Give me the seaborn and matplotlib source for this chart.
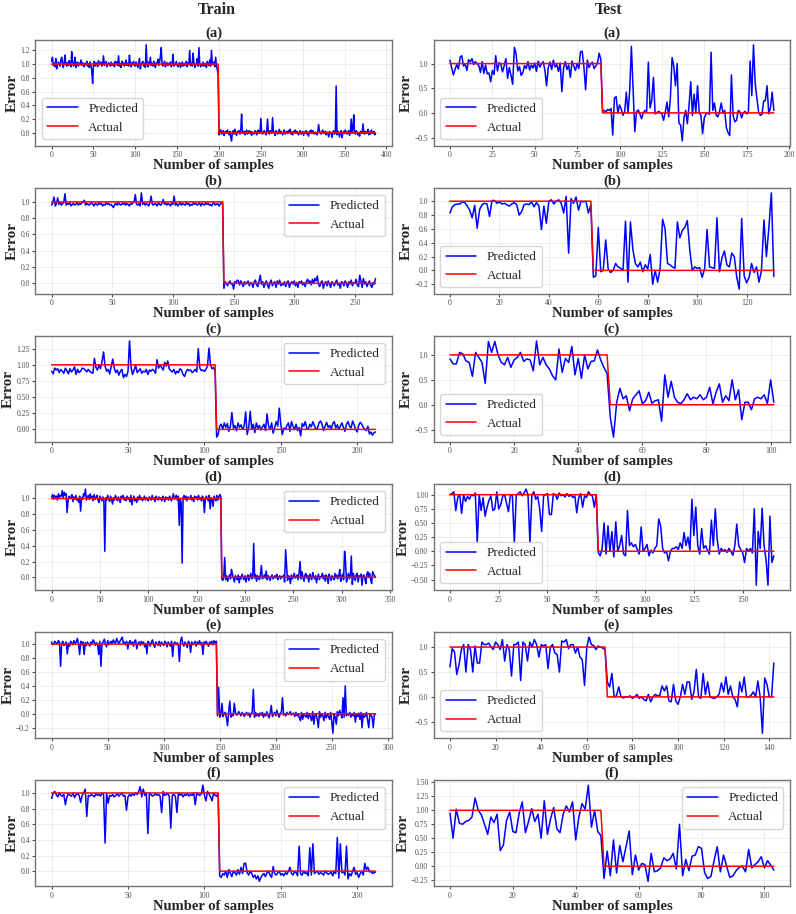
import numpy as np
import pandas as pd
import matplotlib
matplotlib.use("Agg")
import matplotlib.pyplot as plt
from matplotlib.ticker import MultipleLocator
import seaborn as sns

# ---------------- data (predicted values in hundredths) ----------------
# Train (a)
TRAIN_A_HI = [104,110,98,101,96,108,93,99,103,100,97,106,110,101,95,103,113,99,97,102,
              98,105,100,96,118,104,97,99,110,95,100,103,97,101,99,106,98,102,100,96,
              101,99,104,97,100,95,103,98,90,72,99,104,97,102,100,96,105,99,101,103,
              97,100,112,98,101,104,96,99,102,100,97,103,98,100,101,96,104,99,103,98,
              112,97,101,95,104,99,102,97,100,106,98,101,97,113,100,96,102,99,104,98,
              97,103,100,95,101,108,93,99,102,104,97,101,95,128,100,96,103,99,110,98,
              101,97,104,99,95,102,100,107,98,103,112,124,99,97,101,104,96,100,102,98,
              101,99,103,96,100,114,97,101,99,104,98,96,100,102,95,99,103,97,101,98,
              100,104,96,102,99,120,98,101,97,116,103,95,100,99,108,97,124,101,96,100,
              98,103,97,101,99,95,104,100,98,106,97,120,101,99,103,96,110,97,92,83]
TRAIN_A_LO = [-3,2,4,-2,0,3,-4,1,2,-1,4,0,-3,2,-6,-12,1,3,-2,5,
              0,-4,2,1,3,-2,4,27,-1,0,2,-3,1,4,-2,0,3,-1,2,-4,
              1,0,-2,3,2,-3,1,4,-1,0,21,2,-2,0,3,1,-3,2,20,0,
              -2,3,1,-1,22,2,0,-4,3,1,-2,0,5,-1,2,0,-3,1,4,-2,
              0,2,-1,3,0,5,-2,1,-3,2,0,4,-1,2,0,-3,1,3,-2,0,
              2,-4,1,0,3,-2,1,-5,2,0,4,-1,3,0,-2,1,0,-3,2,12,
              3,0,-2,1,4,-1,0,2,-3,1,0,-6,2,-1,0,-7,1,3,-2,0,
              68,-3,2,0,-6,1,3,-7,0,2,-1,4,0,-2,1,3,-4,2,20,-1,
              5,26,0,-2,3,1,-3,0,-5,2,1,-1,13,0,-2,2,-1,0,5,-3,
              1,-2,4,0,-1,2,-3,-1]

# Test (a)
TEST_A_HI = [107,92,77,88,98,89,113,116,95,99,86,108,103,110,98,104,100,96,82,104,
             80,97,79,81,63,86,78,116,85,102,99,83,96,110,70,92,76,58,133,120,
             85,94,76,82,96,90,104,87,97,91,101,84,105,93,99,104,86,55,92,103,
             88,107,93,98,84,101,43,91,104,88,97,72,105,95,86,100,90,124,125,93,
             47,107,92,99,103,90,95,101,121,108]
TEST_A_LO = [3,5,2,7,5,9,-45,30,33,0,16,8,-5,2,42,0,45,135,50,-38,
             2,6,-2,-12,0,5,3,103,10,25,72,-2,0,3,1,-2,-15,2,22,-8,
             30,112,95,55,100,-20,-25,-57,-10,5,-22,15,63,-5,38,0,55,0,-5,-42,
             -10,-2,0,-3,123,5,20,-5,-8,3,20,-1,5,-30,-40,-46,77,-5,-18,-15,
             5,2,-10,0,3,-2,1,105,35,138,60,30,2,-5,-3,24,25,55,-2,10,42,5]

# Train (b)
TRAIN_B_HI = [96,99,106,95,98,105,97,100,96,98,99,110,96,98,97,99,95,97,98,96,
              97,99,96,98,97,99,100,102,96,98,97,96,98,99,97,95,98,97,96,99,
              97,98,95,97,96,99,97,98,96,97,95,93,97,98,96,99,97,96,98,97,
              99,96,98,97,95,98,97,99,100,109,97,96,98,95,111,97,99,96,98,97,
              95,99,107,97,96,98,97,95,99,97,96,98,103,97,99,96,98,97,95,99,
              97,107,96,98,95,97,99,96,98,97,96,99,97,98,95,97,96,99,97,98,
              96,97,99,95,98,97,96,99,97,98,96,97,95,98,99,96,97,98,95,97,
              99,98]
TRAIN_B_LO = [-6,2,0,-3,1,3,-1,0,-7,2,1,4,3,-2,3,0,-4,2,-1,1,
              3,-3,1,0,-5,2,4,-2,-4,3,10,-1,2,-5,0,3,-2,-6,1,4,
              -3,0,2,-5,3,-1,4,-3,0,-2,2,-4,1,3,-5,0,2,-1,3,-3,
              1,-5,2,0,3,-2,1,-4,2,5,1,3,-2,5,0,6,3,9,-1,-4,
              1,3,-6,0,2,-3,3,-1,-5,2,0,-3,1,4,-2,0,-6,2,1,-3,
              3,0,-5,2,-1,4,-3,1,0,5,-2,-4,10,3,-5,6,-1,2,-4,0,
              3,-2,-5,1,-1,6]

# Test (b)
TEST_B_HI = [83,92,95,96,96,99,98,93,87,76,94,61,88,95,97,96,78,101,101,97,
             99,96,97,95,93,96,98,95,80,85,95,96,95,99,92,98,93,59,93,68,
             100,102,96,100,102,97,83,107,25,104,97,106,87,100,99,100,83,95]
TEST_B_LO = [-10,-8,62,-2,0,44,2,-3,0,10,5,3,0,71,-17,70,30,10,5,12,
             -2,8,2,23,-20,0,-17,2,74,60,10,8,5,3,70,47,58,62,72,30,
             0,5,3,4,-10,2,59,5,4,3,76,-2,18,28,8,5,25,20,-10,-27,
             75,-8,-18,-10,10,-3,5,-17,0,73,20,62,112,-9]

# Train (c)
TRAIN_C_HI = [90,86,95,92,94,88,93,90,87,95,91,86,94,89,92,97,85,93,88,90,
              95,94,92,89,93,90,88,87,110,96,92,100,94,105,120,98,90,93,86,97,
              109,95,88,92,84,90,93,80,85,82,90,137,96,85,92,99,88,91,94,87,
              90,89,93,85,92,90,93,91,87,108,95,100,96,92,104,98,106,94,91,89,
              93,86,90,88,94,92,85,82,89,93,91,92,88,90,93,89,125,95,91,92,
              90,93,98,126,100,94,96,90]
TRAIN_C_LO = [-12,-8,5,8,0,10,3,9,-3,5,26,2,6,-2,10,3,7,0,5,27,
              -8,3,28,0,8,-5,10,2,6,-1,4,8,-2,24,5,0,10,-6,3,12,
              5,33,8,-8,2,0,6,10,-3,12,5,0,8,-2,3,-10,9,5,12,2,
              0,8,4,12,6,0,2,10,13,8,-2,5,11,3,6,0,9,12,2,7,
              0,5,10,3,-3,8,12,5,2,13,7,0,-4,6,11,8,3,0,-2,5,-7,-4,-9,-5,-4]

# Test (c)
TEST_C_HI = [92,82,82,105,102,88,85,57,105,95,85,43,127,105,127,100,85,80,95,75,
             90,95,105,87,92,90,68,128,80,95,80,72,58,50,112,65,93,85,117,60,
             93,53,100,72,87,88,110,90,75,63]
TEST_C_LO = [-25,-65,5,33,12,18,-12,12,20,28,2,8,25,3,8,10,-33,60,15,47,
             15,5,2,10,22,10,15,12,20,10,15,35,2,25,42,5,18,8,50,10,
             30,-30,5,5,-10,12,15,12,20,2,50,5]

# Train (d)
TRAIN_D_HI = [102,105,99,104,100,103,98,106,101,104,103,110,101,108,104,106,82,97,103,100,
              101,105,96,102,99,104,98,100,95,103,84,101,99,106,103,112,98,101,104,99,
              106,100,103,97,105,99,101,104,98,95,103,100,97,102,99,33,101,98,104,100,
              96,103,99,93,101,98,104,100,97,102,99,95,103,100,104,98,101,97,103,99,
              101,96,104,92,99,103,97,100,95,102,98,104,99,101,97,100,103,98,101,99,
              97,102,100,98,104,99,101,96,103,100,98,102,99,101,97,103,100,96,102,99,
              101,98,103,100,97,102,106,99,101,104,98,103,66,100,95,18,101,104,99,103,
              97,102,100,99,104,98,101,96,103,100,102,98,104,99,101,97,103,100,82,99,
              103,100,97,104,87,101,99,90,103,100,97,104,98,102,105,103]
TRAIN_D_LO = [-2,-4,0,25,-3,2,-5,0,3,-2,10,4,-1,-6,2,0,-3,3,-7,1,
              -2,4,0,-3,2,-6,0,3,-4,1,5,-2,0,43,-1,3,-5,2,0,-3,
              4,15,-2,0,3,-1,8,-3,2,0,-4,1,3,-2,0,2,-1,4,-3,0,
              2,-2,1,0,3,-6,35,15,-4,2,0,-8,3,-2,1,5,-1,0,3,-3,
              6,20,-2,7,0,-5,3,5,-1,2,-6,4,0,-3,6,1,-2,2,-7,0,
              4,-3,1,0,5,-2,2,-5,3,0,-8,4,1,-4,2,0,-3,5,-1,3,
              -2,2,10,-5,1,4,-3,33,20,-6,0,5,-2,3,27,-9,5,0,-4,3,
              5,-6,2,0,4,-10,2,3,-2,-8,4,7,0,5,-3,-8,7,4,2,0]

# Test (d)
TEST_D_HI = [100,102,105,72,95,100,67,100,88,97,92,100,98,103,15,100,72,95,62,78,
             90,98,72,75,105,75,82,97,100,85,70,100,98,15,100,102,105,98,103,110,
             100,15,100,105,92,97,75,35,98,100,102,65,65,102,100,92,103,98,100,96,
             102,97,100,95,98,68,95,102,78,98,95,105,100,98,78,100]
TEST_D_LO = [-2,-8,5,50,-5,45,0,35,-10,52,0,10,28,-5,-8,72,10,15,8,12,
             3,-5,43,0,5,12,-8,2,-3,5,10,57,45,5,-3,0,-17,0,5,5,
             8,3,15,5,33,10,25,2,92,28,78,10,-5,40,5,10,2,-5,55,10,
             75,20,-5,5,0,3,-2,5,0,-7,10,48,10,3,-2,-20,5,0,5,-3,
             75,-60,35,5,76,10,-15,-60,62,-20,-8]

# Train (e)
TRAIN_E_HI = [103,99,101,104,102,100,105,103,68,101,104,98,100,103,86,101,97,104,102,99,
              105,101,103,108,100,85,104,99,103,85,102,98,103,100,97,103,100,106,104,98,
              102,100,85,104,68,101,103,107,100,96,105,99,102,104,100,106,103,101,108,104,
              100,104,107,110,101,103,99,104,93,102,105,100,103,97,104,106,93,101,103,98,
              104,100,103,96,101,86,104,102,97,103,106,100,95,103,101,98,104,97,103,100,
              98,104,102,96,103,100,97,104,82,101,103,99,102,98,75,104,110,101,97,103,
              100,95,104,102,88,103,99,101,104,97,103,100,105,99,102,85,103,101,104,100,
              97,103,101,104,99,105,102,104]
TRAIN_E_LO = [-3,38,-5,-2,15,-4,0,2,-6,-17,3,18,-5,0,-3,15,2,-2,-1,3,
              0,-3,2,-1,-4,0,2,-2,1,-5,0,3,35,-5,2,-3,0,-4,1,-2,
              2,-5,0,-3,3,-2,-6,1,12,-4,0,2,-3,5,-1,-5,0,3,23,-2,
              0,-3,2,-1,0,3,-2,0,1,-4,2,-3,0,-6,-10,2,-8,0,-3,-5,
              2,-7,0,-4,-10,3,-15,-2,0,-8,-20,3,-5,0,-3,-10,2,-6,0,-4,
              -8,2,-12,-28,0,-5,-15,3,-3,5,0,-6,23,-5,40,-3,0,-2,2,-5,
              0,-3,2,-12,0,-4,1,-8,2,-20,0,-5,-3,2,-10,-20,0,-2,-5,-20,0,-1]

# Test (e)
TEST_E_HI = [60,97,90,45,65,95,105,50,105,95,50,102,68,68,110,105,105,108,100,95,
             110,105,95,115,72,105,95,42,105,105,110,33,110,105,72,110,100,115,105,80,
             105,102,105,57,100,105,88,85,50,112,110,115,97,105,105,88,100,80,75,23,
             100,120,105,103,95,102,100,98,95]
TEST_E_LO = [30,20,47,0,2,20,0,-2,0,0,2,-3,0,5,-3,0,-5,-8,5,-10,
             0,5,2,3,22,12,22,-8,-10,25,-8,-15,0,25,5,30,30,-5,10,55,
             0,-3,47,5,30,0,-2,-3,0,5,28,10,40,5,22,0,-5,-20,30,10,
             40,0,0,3,10,0,32,0,-73,38,25,0,0,68]

# Train (f)
TRAIN_F_HI = [93,100,102,98,95,100,97,96,98,85,95,99,97,96,100,94,98,99,97,88,
              97,100,105,70,97,96,98,97,95,99,97,98,96,100,98,36,100,87,97,96,
              98,95,97,99,96,98,100,96,97,78,95,98,96,99,97,100,98,102,108,95,
              105,97,100,48,100,98,96,97,99,97,98,96,75,102,97,98,99,96,55,97,
              98,96,75,100,97,99,95,98,97,99,96,98,97,100,85,100,98,97,99,110,
              97,90,102,99,95,90,100,97,96,99]
TRAIN_F_LO = [-6,-8,-3,-5,0,-8,2,-3,-7,0,-2,-5,2,-4,5,-3,10,10,-2,-5,
              0,-3,-8,-5,-10,-6,-13,-8,-5,-3,-7,-2,0,-5,-8,6,-3,-5,-2,0,
              -5,-3,-6,-2,-4,0,5,-3,-5,0,-2,-6,32,-4,-5,0,-3,-2,-6,30,
              -5,35,-3,-1,0,-4,-2,-3,-5,0,-2,-4,-3,-1,-6,0,-3,43,-9,35,
              -2,0,-5,32,-10,-3,-6,0,5,-4,-2,-8,-3,0,-5,10,2,5,-1,0,
              -3,-2,-1]

# Test (f)
TEST_F_HI = [95,50,102,77,75,80,82,88,122,100,92,75,57,88,78,93,28,38,82,97,
             62,60,95,115,60,80,103,80,93,50,117,57,85,105,67,60,93,108,97,115,
             47,88,112,102,145,70,100,62,55]
TEST_F_LO = [-22,27,-17,47,-12,37,8,35,63,-15,20,-7,5,3,-27,23,-10,-8,-3,15,
             10,13,23,-5,75,-17,12,-8,18,20,35,32,-12,-22,-18,10,35,-10,20,0,
             -20,-17,-8,-2,0,-10,30,-3,3,8,17,-3,10,2,-7]

COLUMN_TITLES = ["Train", "Test"]
PANEL_LABELS = ["(a)", "(b)", "(c)", "(d)", "(e)", "(f)"]
LEGEND_LABELS = ["Predicted", "Actual"]

TRAIN = [(TRAIN_A_HI, TRAIN_A_LO), (TRAIN_B_HI, TRAIN_B_LO), (TRAIN_C_HI, TRAIN_C_LO),
         (TRAIN_D_HI, TRAIN_D_LO), (TRAIN_E_HI, TRAIN_E_LO), (TRAIN_F_HI, TRAIN_F_LO)]
TEST = [(TEST_A_HI, TEST_A_LO), (TEST_B_HI, TEST_B_LO), (TEST_C_HI, TEST_C_LO),
        (TEST_D_HI, TEST_D_LO), (TEST_E_HI, TEST_E_LO), (TEST_F_HI, TEST_F_LO)]
TRAIN_LEGEND_LOC = ["lower left", "upper right", "upper right", "upper right", "upper right", "upper right"]
TEST_LEGEND_LOC = ["lower left", "lower left", "lower left", "lower left", "lower left", "upper right"]
TRAIN_YSTEP = [0.2, 0.2, 0.25, 0.2, 0.2, 0.2]
TEST_YSTEP = [0.5, 0.2, 0.5, 0.25, 0.5, 0.25]
TRAIN_XSTEP = [50, 50, 50, 50, 50, 50]
TEST_XSTEP = [25, 20, 20, 25, 20, 20]

# ---------------- style ----------------
sns.set_style("whitegrid", {"axes.edgecolor": "0.45", "grid.color": "0.91",
                            "grid.linestyle": "-", "xtick.bottom": True, "ytick.left": True})
SERIF = ["Liberation Serif", "DejaVu Serif"]
plt.rcParams["font.family"] = SERIF
plt.rcParams["axes.linewidth"] = 1.0
plt.rcParams["grid.linewidth"] = 0.5
plt.rcParams["xtick.major.size"] = 2.5
plt.rcParams["ytick.major.size"] = 2.5
plt.rcParams["xtick.color"] = "0.3"
plt.rcParams["ytick.color"] = "0.3"

fig = plt.figure(figsize=(7.96, 9.14), dpi=100)
gs = fig.add_gridspec(6, 2, left=0.0445, right=0.9925, top=0.9562, bottom=0.0305,
                      hspace=0.40, wspace=0.118)

columns = [(TRAIN, TRAIN_LEGEND_LOC, TRAIN_YSTEP, TRAIN_XSTEP),
           (TEST, TEST_LEGEND_LOC, TEST_YSTEP, TEST_XSTEP)]
for col, (panels, locs, ysteps, xsteps) in enumerate(columns):
    for row, (hi, lo) in enumerate(panels):
        ax = fig.add_subplot(gs[row, col])
        pred = np.array(hi + lo, dtype=float) / 100.0
        actual = np.array([1.0] * len(hi) + [0.0] * len(lo))
        idx = np.arange(len(pred))
        df = pd.DataFrame({"x": idx, "Predicted": pred, "Actual": actual})
        sns.lineplot(data=df, x="x", y="Predicted", ax=ax, color="#0000ff",
                     linewidth=1.1, label=LEGEND_LABELS[0], errorbar=None)
        sns.lineplot(data=df, x="x", y="Actual", ax=ax, color="#ff0000",
                     linewidth=1.1, label=LEGEND_LABELS[1], errorbar=None)
        ax.yaxis.set_major_locator(MultipleLocator(ysteps[row]))
        ax.xaxis.set_major_locator(MultipleLocator(xsteps[row]))
        ax.set_xlabel("Number of samples", fontsize=10.5, fontweight="bold",
                      family=SERIF, labelpad=0)
        ax.set_ylabel("Error", fontsize=11, fontweight="bold", family=SERIF, labelpad=1)
        ax.set_title(PANEL_LABELS[row], fontsize=10.5, fontweight="bold", family=SERIF, pad=2)
        ax.tick_params(labelsize=5.5, pad=1.5)
        leg = ax.legend(loc=locs[row], handlelength=2.3,
                        prop={"family": SERIF, "size": 9.5})
        leg.get_frame().set_edgecolor("0.8")

fig.text(0.272, 1 - 10 / 914, COLUMN_TITLES[0], ha="center", va="center",
         fontsize=11.5, fontweight="bold", family=SERIF)
fig.text(0.764, 1 - 10 / 914, COLUMN_TITLES[1], ha="center", va="center",
         fontsize=11.5, fontweight="bold", family=SERIF)

fig.savefig("out.png", dpi=100)
